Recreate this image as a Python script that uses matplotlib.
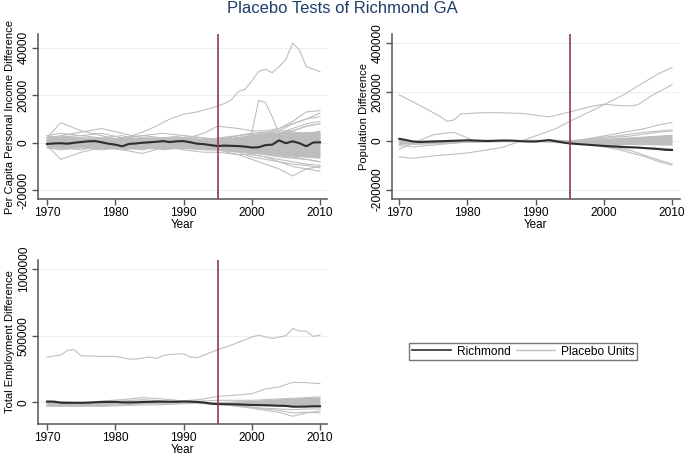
import numpy as np
import matplotlib.pyplot as plt
from matplotlib.lines import Line2D

plt.rcParams['font.family'] = ['Liberation Sans', 'DejaVu Sans']

# Años
years = list(range(1970, 2011))
# malla gruesa para las unidades placebo
G = [1970, 1972, 1975, 1978, 1981, 1984, 1987, 1990, 1993, 1995, 1998, 2000, 2002, 2004, 2006, 2008, 2010]
B = [1970, 1975, 1980, 1985, 1990, 1995, 2000, 2005, 2010]

# ---------------- Ingreso per capita (miles) ----------------
inc_richmond = [-0.5, -0.3, -0.2, -0.4, 0, 0.3, 0.6, 0.7, 0.2, -0.4, -0.8, -1.5, -0.5, -0.3, 0, 0.2,
                0.4, 0.7, 0.3, 0.6, 0.7, 0.2, -0.4, -0.6, -1.0, -1.4, -1.2, -1.3, -1.4, -1.6, -2.0,
                -1.9, -1.0, -0.8, 1.0, -0.2, 0.6, -0.2, -1.5, 0.1, 0.2]
inc_band_hi = [2.8, 2.5, 2.2, 2.5, 2.5, 1.5, 3.5, 4.5, 4.8]
inc_band_lo = [-2.5, -2.2, -2.5, -2.5, -2.5, -3.0, -4.5, -5.5, -6.5]
inc_big_yr = [1970, 1972, 1975, 1978, 1980, 1982, 1984, 1986, 1988, 1990, 1992, 1994, 1995, 1996,
              1997, 1998, 1999, 2000, 2001, 2002, 2003, 2004, 2005, 2006, 2007, 2008, 2009, 2010]
inc_big = [1.5, 2.5, 3, 2, 1.5, 2.5, 4.5, 7, 10, 12, 13, 14.5, 15.5, 16.5, 18, 21.5, 22.5, 26, 30,
           31, 29.5, 32, 35, 42, 39, 32, 31, 30]
inc_spike_yr = [1970, 1975, 1980, 1985, 1990, 1995, 1998, 2000, 2001, 2002, 2003, 2004, 2006, 2008, 2010]
inc_spike = [1, -1, 0.5, 1, 0, 2, 3, 4, 17.8, 17, 11, 4, 5, 7, 8]
inc_lines = [
    [2, 8.5, 5, 3, 1, 0.5, 1, 0, -1, -2, -3, -4, -5, -5.5, -6, -7, -8],
    [-1, -7, -4, -2, -1, -1.5, -1, -2, -2, -3, -4, -6, -7, -8, -9, -9.5, -10.5],
    [1, 3, 4.5, 6, 4, 2, 1, 0.5, 0, -1, 0, 1, 3, 5, 8, 10, 12.5],
    [-1, -2, -1, -2, -3, -4.5, -2, -1, -2, -2, -3, -5, -6, -8, -10, -11, -12],
    [0.5, 0, 1, 0.5, 0, 1, 1, 1.5, 4, 7, 6, 5, 5, 6, 9, 13, 13.5],
    [0, 1, -1, 0, -0.5, 0, 1, 0, -1, -0.5, 2, 3, 4, 6, 8, 10, 11],
    [1, 2, 1.5, 1, 0, 1.5, 0, 1, 1, 0, 1, 2, 3, 4, 6, 8, 9],
    [-2, -1, -2, -3, -2, -1, -3, -2, -3, -3, -5, -7, -9, -11, -14, -11, -10],
    [2, 3, 2, 1, 2, 3, 2, 2, 1, 1, 2, 3, 4, 5, 5, 7, 8],
    [-1, -2, -3, -1, -2, -3, -1, -3, -4, -4, -5, -5, -6, -7, -8, -9, -9.5],
    [3, 2, 1, 2, 3, 1, 2, 3, 2, 1, 3, 4, 4.5, 4, 4.5, 4, 4.8],
    [-2, -3, -2, -1, -3, -2, -2, -1, -2, -2.5, -3.5, -4, -5, -6, -6.5, -7, -8],
    [0.5, -0.5, 1, 2, 1, -1, 0, 2, 1, -1, -1, 0, 1, 2, 1, 2, 3],
    [-0.5, 1.5, 0, -1, 0, 2, 1, -1, 0, 0.5, -2, -1, -2, -3, -2, -4, -3],
    [3, 4, 3, 4, 2, 3, 4, 3, 2, 1.5, 3, 3.5, 4, 3, 2, 1, 2],
]

# ---------------- Poblacion (miles) ----------------
pop_richmond = [8, 3, -3, -5, -4, -3, -2, -1, 0, 1, 2, 1, 0, -1, 0, 1, 1, 0, -2, -3, -3, 0, 3, -2,
                -7, -11, -13, -15, -17, -19, -21, -23, -24, -26, -27, -28, -30, -32, -34, -37, -38]
pop_band_hi = [3, 3, 3, 3, 3, 3, 10, 18, 27]
pop_band_lo = [-12, -12, -5, -4, -4, -10, -15, -16, -18]
popA_yr = [1970, 1972, 1974, 1976, 1977, 1978, 1979, 1982, 1985, 1988, 1990, 1992, 1995, 1998, 2000,
           2002, 2004, 2005, 2007, 2008, 2010]
popA = [188, 160, 130, 100, 80, 85, 110, 115, 115, 112, 105, 98, 118, 140, 150, 145, 143, 148, 185, 200, 230]
popB_yr = [1970, 1972, 1975, 1980, 1985, 1988, 1990, 1993, 1995, 1998, 2000, 2003, 2005, 2008, 2010]
popB = [-66, -72, -62, -50, -28, 0, 20, 50, 80, 120, 148, 190, 225, 275, 300]
pop_lines = [
    [-35, -10, 25, 35, 0, 2, 0, -2, 0, -5, 10, 20, 30, 40, 50, 65, 75],
    [-20, -25, -18, -10, -2, 0, 1, 2, 0, -1, 8, 15, 20, 28, 35, 40, 45],
    [-10, -15, -12, -8, -5, -3, -2, 0, 2, 0, 5, 10, 15, 20, 28, 35, 40],
    [-15, -12, -10, -8, -5, -3, -1, 0, -2, -5, -15, -25, -35, -50, -65, -85, -100],
    [-5, -8, -6, -4, -3, -2, 0, 1, -1, -4, -12, -20, -30, -40, -60, -78, -95],
    [0, -5, -3, -2, 0, 1, 0, -1, 0, -3, -15, -18, -20, -25, -28, -30, -33],
]

# ---------------- Empleo total (miles) ----------------
emp_richmond = [5, 5, -3, -4, -4, -4, -3, 0, 2, 3, 3, 0, -1, 0, 2, 3, 5, 5, 4, 4, 6, 5, 3, -2,
                -10, -14, -14, -15, -16, -18, -20, -21, -22, -24, -26, -27, -33, -33, -32, -30, -30]
emp_band_hi = [10, 5, 10, 15, 10, 5, 15, 30, 40]
emp_band_lo = [-25, -25, -15, -10, -5, -15, -25, -30, -35]
empBig_yr = [1970, 1972, 1973, 1974, 1975, 1978, 1980, 1982, 1983, 1985, 1986, 1987, 1988, 1990,
             1991, 1992, 1995, 1997, 2000, 2001, 2003, 2005, 2006, 2007, 2008, 2009, 2010]
empBig = [340, 355, 390, 395, 350, 345, 345, 325, 325, 340, 330, 350, 360, 365, 340, 335, 395, 430,
          490, 505, 480, 500, 555, 535, 535, 495, 505]
emp_lines = [
    [-20, -15, -10, 10, 20, 35, 25, 10, 25, 45, 55, 65, 100, 115, 150, 148, 140],
    [-30, -28, -28, -30, -25, -20, -18, -10, -5, -10, -30, -45, -60, -75, -105, -80, -65],
    [-25, -30, -30, -25, -20, -10, 0, 5, 0, -5, -20, -35, -50, -60, -80, -75, -80],
    [10, 5, 0, 5, 10, 20, 10, 5, 10, 15, 15, 15, 20, 25, 30, 35, 40],
    [-10, -20, -15, -5, 0, 10, 5, 0, 0, -10, -30, -40, -45, -50, -55, -50, -50],
]

gris = '#bfbfbf'
banda = '#bdbdbd'
negro = '#2e2e2e'
rojo = '#8c3a4f'

fig = plt.figure(figsize=(6.85, 4.59), dpi=100)
ax1 = fig.add_axes([0.0555, 0.5664, 0.4219, 0.3595])
ax2 = fig.add_axes([0.5718, 0.5664, 0.4205, 0.3595])
ax3 = fig.add_axes([0.0555, 0.0763, 0.4219, 0.3573])


def panel(ax, escala, rich, hi, lo, extras, lineas, ylim, yticks, ylabel, xlim):
    ax.fill_between(B, np.array(lo) * escala, np.array(hi) * escala, color=banda, lw=0, zorder=1)
    for l in lineas:
        ax.plot(G, np.array(l) * escala, color=gris, lw=0.8, zorder=2)
    for yr, v in extras:
        ax.plot(yr, np.array(v) * escala, color=gris, lw=0.8, zorder=2)
    ax.plot(years, np.array(rich) * escala, color=negro, lw=1.5, zorder=3)
    ax.axvline(1995, color=rojo, lw=1.2, zorder=4)
    ax.set_xlim(xlim)
    ax.set_ylim(ylim)
    ax.set_xticks([1970, 1980, 1990, 2000, 2010])
    ax.set_yticks(yticks)
    ax.set_yticklabels([str(t) for t in yticks])
    ax.grid(axis='y', color='#e8f0f2', lw=0.8, zorder=0)
    ax.set_axisbelow(True)
    for s in ['top', 'right']:
        ax.spines[s].set_visible(False)
    for s in ['left', 'bottom']:
        ax.spines[s].set_color('#555555')
        ax.spines[s].set_linewidth(1.1)
    ax.tick_params(colors='#555555', labelcolor='black', labelsize=8.6, length=4, width=1, pad=2)
    ax.tick_params(axis='y', labelrotation=90)
    for lab in ax.get_yticklabels():
        lab.set_va('center')
    ax.set_xlabel('Year', fontsize=8.4, labelpad=0)
    ax.set_ylabel(ylabel, fontsize=8.0, labelpad=2)


panel(ax1, 1000, inc_richmond, inc_band_hi, inc_band_lo,
      [(inc_big_yr, inc_big), (inc_spike_yr, inc_spike)], inc_lines,
      (-23700, 45800), [-20000, 0, 20000, 40000], 'Per Capita Personal Income Difference',
      (1968.68, 2011.03))
panel(ax2, 1000, pop_richmond, pop_band_hi, pop_band_lo,
      [(popA_yr, popA), (popB_yr, popB)], pop_lines,
      (-239000, 438000), [-200000, 0, 200000, 400000], 'Population Difference',
      (1968.89, 2011.13))
panel(ax3, 1000, emp_richmond, emp_band_hi, emp_band_lo,
      [(empBig_yr, empBig)], emp_lines,
      (-163000, 1070000), [0, 500000, 1000000], 'Total Employment Difference',
      (1968.68, 2011.03))

fig.suptitle('Placebo Tests of Richmond GA', x=0.5, y=0.998, fontsize=12, color='#1f3d6b')

handles = [Line2D([], [], color=negro, lw=1.2), Line2D([], [], color=gris, lw=1.0)]
leg = fig.legend(handles, ['Richmond', 'Placebo Units'], loc='center',
                 bbox_to_anchor=(0.7635, 0.2342), ncol=2, fontsize=8.6, frameon=True,
                 fancybox=False, handlelength=3.3, columnspacing=0.4, handletextpad=0.5,
                 borderpad=0.2)
leg.get_frame().set_edgecolor('#555555')
leg.get_frame().set_linewidth(1.0)

fig.savefig('out.png', dpi=100)
